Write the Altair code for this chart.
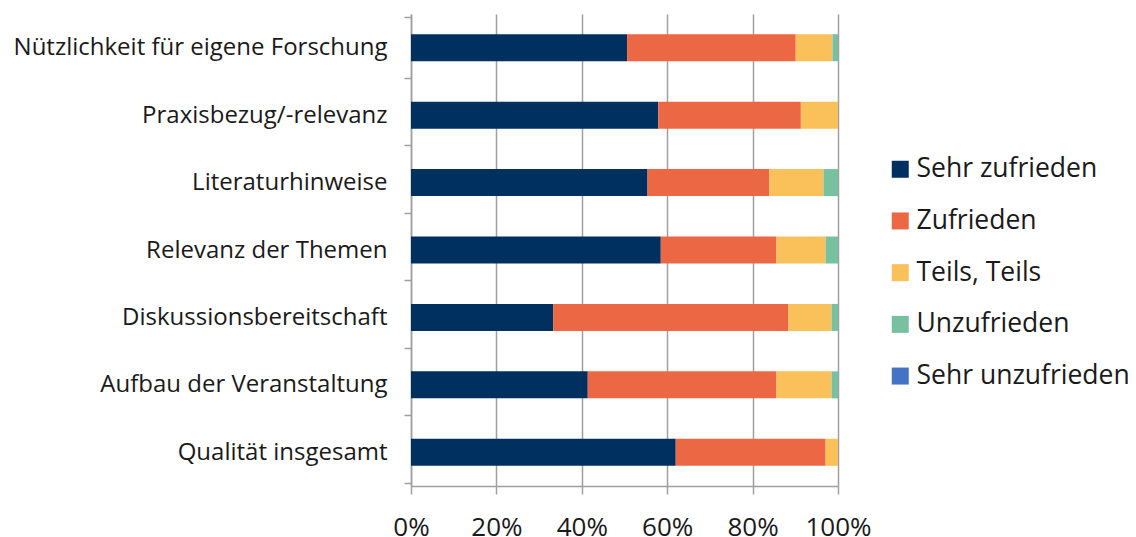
import altair as alt
import pandas as pd

categories = [
    "Nützlichkeit für eigene Forschung",
    "Praxisbezug/-relevanz",
    "Literaturhinweise",
    "Relevanz der Themen",
    "Diskussionsbereitschaft",
    "Aufbau der Veranstaltung",
    "Qualität insgesamt",
]
levels = ["Sehr zufrieden", "Zufrieden", "Teils, Teils", "Unzufrieden", "Sehr unzufrieden"]
colors = ["#003060", "#EC6845", "#FAC05A", "#77C1A0", "#4472C4"]

sehr_zufrieden = [50.6, 57.9, 55.4, 58.5, 33.3, 41.4, 62.0]
zufrieden = [39.5, 33.4, 28.5, 27.1, 55.1, 44.2, 35.1]
teils = [8.6, 8.7, 12.7, 11.5, 10.1, 12.9, 2.9]
unzufrieden = [1.3, 0.0, 3.4, 2.9, 1.5, 1.5, 0.0]
sehr_unzufrieden = [0.0, 0.0, 0.0, 0.0, 0.0, 0.0, 0.0]

series = [sehr_zufrieden, zufrieden, teils, unzufrieden, sehr_unzufrieden]
rows = []
for li, (lev, vals) in enumerate(zip(levels, series)):
    for c, v in zip(categories, vals):
        rows.append({"Kategorie": c, "Bewertung": lev, "Wert": v, "rank": li})
df = pd.DataFrame(rows)

FONT = "Open Sans"

chart = (
    alt.Chart(df)
    .mark_bar(size=27)
    .encode(
        y=alt.Y(
            "Kategorie:N",
            sort=categories,
            title=None,
            axis=alt.Axis(
                tickBand="extent",
                ticks=True,
                tickSize=7,
                tickColor="#A0A0A0",
                tickWidth=1.5,
                domainColor="#A0A0A0",
                domainWidth=1.5,
                grid=False,
                labelFont=FONT,
                labelFontSize=24,
                labelColor="#1a1a1a",
                labelPadding=17,
                labelLimit=500,
            ),
        ),
        x=alt.X(
            "Wert:Q",
            stack="normalize",
            title=None,
            scale=alt.Scale(domain=[0, 1], nice=False),
            axis=alt.Axis(
                format=".0%",
                values=[0, 0.2, 0.4, 0.6, 0.8, 1.0],
                grid=True,
                gridColor="#A0A0A0",
                gridWidth=1.5,
                tickSize=8,
                tickColor="#A0A0A0",
                tickWidth=1.5,
                domainColor="#A0A0A0",
                domainWidth=1.5,
                labelFont=FONT,
                labelFontSize=26,
                labelColor="#1a1a1a",
                labelPadding=20,
                labelFlush=False,
            ),
        ),
        color=alt.Color(
            "Bewertung:N",
            sort=levels,
            scale=alt.Scale(domain=levels, range=colors),
            legend=alt.Legend(
                title=None,
                orient="none",
                legendX=476,
                legendY=142,
                symbolType="square",
                symbolSize=289,
                symbolStrokeWidth=0,
                symbolOpacity=1,
                labelFont=FONT,
                labelFontSize=26.5,
                labelColor="#1a1a1a",
                labelOffset=3,
                rowPadding=24.7,
                labelLimit=400,
            ),
        ),
        order=alt.Order("rank:Q", sort="ascending"),
    )
    .properties(
        width=427,
        height=472,
        autosize=alt.AutoSizeParams(type="none"),
        padding={"top": 6, "left": 403, "right": 290, "bottom": 51},
    )
    .configure_view(stroke=None)
)

chart.save("out.html", embed_options={"renderer": "svg", "actions": False})
